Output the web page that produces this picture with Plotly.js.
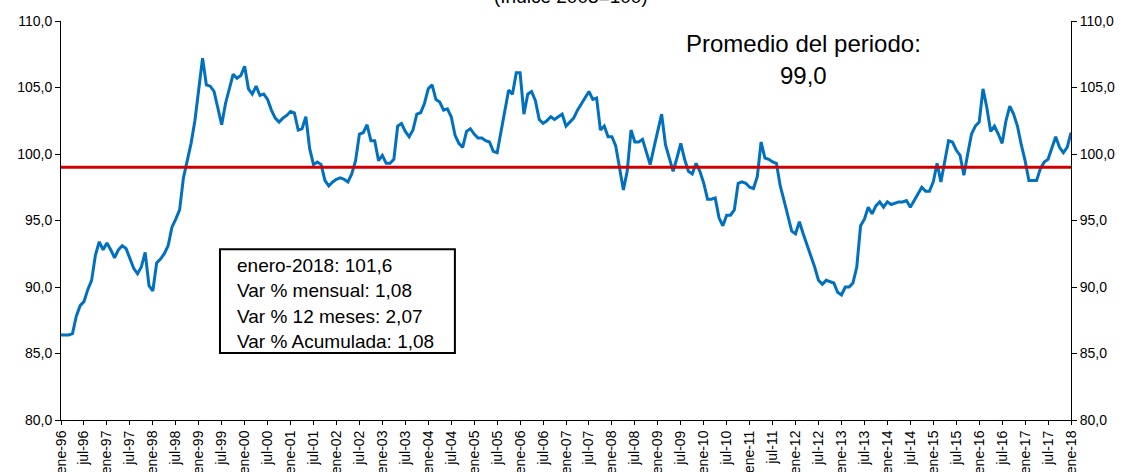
<!DOCTYPE html>
<html>
<head>
<meta charset="utf-8">
<script src="https://cdn.plot.ly/plotly-3.0.1.min.js"></script>
<style>
  html, body { margin: 0; padding: 0; background: #fff; }
  #plot { width: 1125px; height: 472px; }
</style>
</head>
<body>
<div id="plot"></div>
<script>
// monthly index values, ene-96 .. ene-18
const idx1996_1999 = [
  86.4, 86.4, 86.4, 86.5, 87.8, 88.6, 88.9, 89.8, 90.5, 92.4, 93.4, 92.8,
  93.3, 92.8, 92.2, 92.8, 93.1, 92.9, 92.1, 91.4, 91.0, 91.5, 92.6, 90.1,
  89.7, 91.8, 92.1, 92.5, 93.1, 94.5, 95.1, 95.8, 98.2, 99.5, 100.8, 102.5,
  104.8, 107.2, 105.2, 105.1, 104.7, 103.5, 102.2, 103.8, 104.9, 106.0, 105.7, 105.9
];
const idx2000_2003 = [
  106.6, 104.9, 104.5, 105.1, 104.4, 104.5, 104.1, 103.3, 102.7, 102.4, 102.7, 102.9,
  103.2, 103.1, 101.8, 101.9, 102.8, 100.4, 99.2, 99.4, 99.2, 98.0, 97.6, 97.9,
  98.1, 98.2, 98.1, 97.9, 98.5, 99.5, 101.5, 101.6, 102.2, 101.0, 101.0, 99.5,
  99.9, 99.3, 99.3, 99.6, 102.1, 102.3, 101.7, 101.3, 101.8, 103.0, 103.1, 103.8
];
const idx2004_2007 = [
  104.9, 105.2, 104.1, 103.9, 103.3, 103.4, 102.8, 101.4, 100.8, 100.5, 101.7, 101.9,
  101.5, 101.2, 101.2, 101.0, 100.9, 100.2, 100.1, 101.6, 103.4, 104.8, 104.5, 106.1,
  106.1, 103.0, 104.5, 104.7, 104.0, 102.6, 102.3, 102.5, 102.8, 102.6, 102.8, 103.0,
  102.1, 102.4, 102.7, 103.3, 103.8, 104.2, 104.7, 104.1, 104.2, 101.8, 102.1, 101.3
];
const idx2008_2011 = [
  101.3, 100.6, 99.0, 97.3, 98.7, 101.8, 100.9, 100.9, 101.1, 100.2, 99.2, 100.5,
  101.7, 103.0, 100.7, 99.7, 98.7, 99.7, 100.8, 99.6, 98.7, 98.5, 99.3, 98.7,
  97.8, 96.6, 96.6, 96.7, 95.2, 94.6, 95.4, 95.4, 95.8, 97.8, 97.9, 97.8,
  97.5, 97.4, 98.3, 100.9, 99.7, 99.6, 99.4, 99.3, 97.6, 96.5, 95.4, 94.2
];
const idx2012_2015 = [
  94.0, 94.9, 94.0, 93.2, 92.4, 91.5, 90.5, 90.2, 90.5, 90.4, 90.3, 89.6,
  89.4, 90.0, 90.0, 90.3, 91.5, 94.6, 95.1, 96.0, 95.5, 96.1, 96.4, 96.0,
  96.4, 96.2, 96.3, 96.4, 96.4, 96.5, 96.0, 96.5, 97.1, 97.5, 97.2, 97.2,
  97.9, 99.3, 97.9, 99.5, 101.0, 100.9, 100.3, 99.9, 98.4, 100.0, 101.5, 102.1
];
const idx2016_2018 = [
  102.4, 104.9, 103.5, 101.7, 102.1, 101.5, 100.8, 102.5, 103.6, 103.0, 102.1, 100.7,
  99.5, 98.0, 98.0, 98.0, 98.9, 99.4, 99.6, 100.4, 101.3, 100.5, 100.1, 100.5,
  101.6
];
const promedio = 99.0;
const mesLabels = ['ene', 'feb', 'mar', 'abr', 'may', 'jun', 'jul', 'ago', 'sep', 'oct', 'nov', 'dic'];
const infoLines = [
  'enero-2018: 101,6',
  'Var % mensual: 1,08',
  'Var % 12 meses: 2,07',
  'Var % Acumulada: 1,08'
];

const values = [].concat(idx1996_1999, idx2000_2003, idx2004_2007, idx2008_2011, idx2012_2015, idx2016_2018);
const xs = values.map((v, i) => i);

// ticks every 6 months, "ene-96", "jul-96", ...
const tickVals = [];
const tickText = [];
for (let i = 0; i < values.length; i += 6) {
  const year = 96 + Math.floor(i / 12);
  tickVals.push(i);
  tickText.push(mesLabels[i % 12] + '-' + String(year % 100).padStart(2, '0'));
}

const lineTrace = {
  x: xs,
  y: values,
  type: 'scatter',
  mode: 'lines',
  line: { color: '#0070c0', width: 3 },
  hoverinfo: 'skip'
};

const avgTrace = {
  x: [xs[0], xs[xs.length - 1]],
  y: [promedio, promedio],
  type: 'scatter',
  mode: 'lines',
  line: { color: '#d00000', width: 3 },
  hoverinfo: 'skip'
};

// dummy trace so the right axis shows up
const rightTrace = {
  x: [xs[0]],
  y: [promedio],
  yaxis: 'y2',
  type: 'scatter',
  mode: 'markers',
  marker: { opacity: 0 },
  hoverinfo: 'skip'
};

const fam = 'Liberation Sans, Arial, sans-serif';
const font = { family: fam, size: 14, color: '#000' };

const yAxisBase = {
  range: [80, 110],
  dtick: 5,
  tickformat: '.1f',
  showgrid: false,
  zeroline: false,
  showline: true,
  linecolor: '#000',
  linewidth: 1,
  ticks: 'outside',
  ticklen: 5,
  tickcolor: '#000',
  tickfont: font
};

const boxLeft = 0.1574, boxRight = 0.390, boxTop = 0.428, boxBottom = 0.168;
const lineY = [0.388, 0.3256, 0.2604, 0.196];

const annotations = infoLines.map((t, k) => ({
  xref: 'paper', yref: 'paper',
  x: 0.1718, y: lineY[k],
  xanchor: 'left', yanchor: 'middle',
  text: t, showarrow: false,
  font: { family: fam, size: 19, color: '#000' }
}));

annotations.push(
  {
    xref: 'paper', yref: 'paper', x: 0.7351, y: 0.9431,
    xanchor: 'center', yanchor: 'middle',
    text: 'Promedio del periodo:', showarrow: false,
    font: { family: fam, size: 24, color: '#000' }
  },
  {
    xref: 'paper', yref: 'paper', x: 0.7351, y: 0.8629,
    xanchor: 'center', yanchor: 'middle',
    text: '99,0', showarrow: false,
    font: { family: fam, size: 24, color: '#000' }
  },
  {
    xref: 'paper', yref: 'paper', x: 0.5050, y: 1.062,
    xanchor: 'center', yanchor: 'middle',
    text: '(Índice 2003=100)', showarrow: false,
    font: { family: fam, size: 19, color: '#000' }
  }
);

const layout = {
  width: 1125,
  height: 472,
  margin: { l: 61, r: 54, t: 21, b: 52 },
  paper_bgcolor: '#fff',
  plot_bgcolor: '#fff',
  showlegend: false,
  separators: ',.',
  font: font,
  xaxis: {
    range: [0, values.length - 1],
    tickvals: tickVals,
    ticktext: tickText,
    tickangle: -90,
    showgrid: false,
    zeroline: false,
    showline: true,
    linecolor: '#000',
    linewidth: 1,
    ticks: 'outside',
    ticklen: 4,
    tickcolor: '#000',
    tickfont: { family: fam, size: 14, color: '#000' }
  },
  yaxis: Object.assign({}, yAxisBase),
  yaxis2: Object.assign({}, yAxisBase, { overlaying: 'y', side: 'right' }),
  shapes: [{
    type: 'rect', xref: 'paper', yref: 'paper',
    x0: boxLeft, x1: boxRight, y0: boxBottom, y1: boxTop,
    line: { color: '#000', width: 2 },
    fillcolor: '#fff', layer: 'above'
  }],
  annotations: annotations
};

Plotly.newPlot('plot', [lineTrace, avgTrace, rightTrace], layout, { displayModeBar: false, staticPlot: true });
</script>
</body>
</html>
